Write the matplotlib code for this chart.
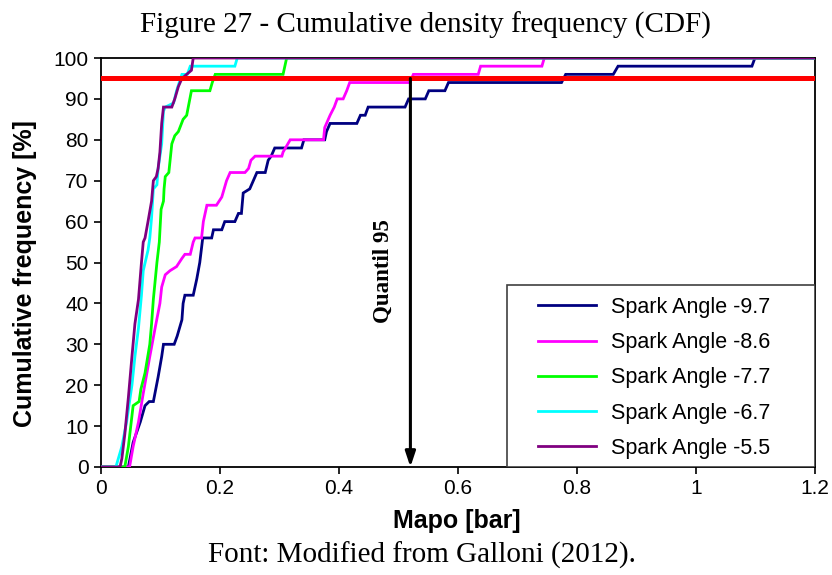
import matplotlib
matplotlib.use("Agg")
import matplotlib.pyplot as plt
from matplotlib.patches import Rectangle

# Empirical CDFs of Mapo for each spark angle (x in bar, y in %)
labels = ["Spark Angle -9.7", "Spark Angle -8.6", "Spark Angle -7.7",
          "Spark Angle -6.7", "Spark Angle -5.5"]
colors = ["#000080", "#FF00FF", "#00FF00", "#00FFFF", "#800080"]

x_97 = [0, 0.046, 0.054, 0.066, 0.074, 0.081, 0.088, 0.096, 0.102, 0.105, 0.123,
        0.128, 0.136, 0.138, 0.141, 0.155, 0.161, 0.166, 0.171, 0.186, 0.189,
        0.203, 0.208, 0.225, 0.231, 0.236, 0.239, 0.25, 0.256, 0.262, 0.276,
        0.281, 0.286, 0.292, 0.337, 0.341, 0.376, 0.379, 0.385, 0.43, 0.436,
        0.444, 0.449, 0.511, 0.517, 0.545, 0.551, 0.578, 0.584, 0.774, 0.781,
        0.861, 0.869, 1.094, 1.099, 1.2]
y_97 = [0, 0, 6, 11, 15, 16, 16, 22, 27, 30, 30,
        32, 36, 40, 42, 42, 46, 50, 56, 56, 58,
        58, 60, 60, 62, 62, 67, 68, 70, 72, 72,
        75, 76, 78, 78, 80, 80, 82, 84, 84, 86,
        86, 88, 88, 90, 90, 92, 92, 94, 94, 96,
        96, 98, 98, 100, 100]

x_86 = [0, 0.048, 0.054, 0.063, 0.071, 0.082, 0.091, 0.099, 0.102, 0.108, 0.116,
        0.127, 0.136, 0.141, 0.150, 0.155, 0.158, 0.169, 0.172, 0.178, 0.194,
        0.203, 0.211, 0.217, 0.242, 0.248, 0.252, 0.259, 0.304, 0.306, 0.318,
        0.374, 0.376, 0.379, 0.385, 0.392, 0.397, 0.407, 0.413, 0.418, 0.519,
        0.525, 0.634, 0.638, 0.741, 0.745, 1.2]
y_86 = [0, 0, 5, 11, 18, 27, 34, 40, 44, 47, 48,
        49, 51, 52, 52, 55, 56, 56, 60, 64, 64,
        66, 70, 72, 72, 73, 75, 76, 76, 77, 80,
        80, 83, 84, 86, 88, 90, 90, 92, 94, 94,
        96, 96, 98, 98, 100, 100]

x_77 = [0, 0.04, 0.046, 0.054, 0.064, 0.067, 0.074, 0.082, 0.085, 0.088, 0.094,
        0.098, 0.101, 0.105, 0.106, 0.108, 0.114, 0.119, 0.124, 0.13, 0.138,
        0.144, 0.148, 0.152, 0.183, 0.187, 0.192, 0.306, 0.312, 1.2]
y_77 = [0, 0, 5, 15, 16, 19, 23, 30, 35, 41, 50,
        55, 63, 65, 68, 71, 72, 79, 81, 82, 85,
        86, 89, 92, 92, 94, 96, 96, 100, 100]

x_67 = [0, 0.025, 0.035, 0.043, 0.052, 0.057, 0.063, 0.068, 0.071, 0.079, 0.082,
        0.085, 0.088, 0.094, 0.096, 0.102, 0.105, 0.108, 0.122, 0.127, 0.136,
        0.145, 0.15, 0.225, 0.229, 1.2]
y_67 = [0, 0, 5, 11, 20, 27, 34, 42, 48, 53, 56,
        61, 68, 69, 73, 79, 87, 88, 89, 92, 96,
        96, 98, 98, 100, 100]

x_55 = [0, 0.032, 0.035, 0.040, 0.046, 0.052, 0.057, 0.063, 0.068, 0.071, 0.074,
        0.079, 0.085, 0.088, 0.093, 0.096, 0.099, 0.102, 0.105, 0.119, 0.124,
        0.13, 0.136, 0.144, 0.152, 0.155, 1.2]
y_55 = [0, 0, 2, 8, 17, 27, 35, 41, 50, 55, 56,
        60, 65, 70, 71, 73, 77, 84, 88, 88, 90,
        93, 95, 96, 97, 100, 100]

series_x = [x_97, x_86, x_77, x_67, x_55]
series_y = [y_97, y_86, y_77, y_67, y_55]

quantile_level = 95
quantile_x = 0.52

xticks = [0, 0.2, 0.4, 0.6, 0.8, 1, 1.2]
xtick_labels = ["0", "0.2", "0.4", "0.6", "0.8", "1", "1.2"]
yticks = list(range(0, 101, 10))

W, H = 832, 575
fig = plt.figure(figsize=(W / 100, H / 100), dpi=100)
ax_l, ax_r, ax_t, ax_b = 101, 815, 58, 467
ax = fig.add_axes([ax_l / W, 1 - ax_b / H, (ax_r - ax_l) / W, (ax_b - ax_t) / H])

sans = "Liberation Sans"
serif = "Liberation Serif"

handles = []
for xs, ys, c, lab in zip(series_x, series_y, colors, labels):
    h, = ax.plot(xs, ys, color=c, lw=2.0, label=lab, solid_joinstyle="miter", zorder=3)
    handles.append(h)

ax.axhline(quantile_level, color="#FF0000", lw=3.6, zorder=4)
ax.annotate("", xy=(quantile_x, 0), xytext=(quantile_x, quantile_level),
            arrowprops=dict(arrowstyle="-|>,head_length=0.9,head_width=0.3",
                            color="black", lw=2.2, shrinkA=0, shrinkB=0),
            zorder=5)
ax.text(quantile_x - 0.046, 48, "Quantil 95", rotation=90, ha="center", va="center",
        fontsize=16.5, fontweight="bold", family=serif, zorder=5)

ax.set_xlim(0, 1.2)
ax.set_ylim(0, 100)
ax.set_xticks(xticks)
ax.set_xticklabels(xtick_labels)
ax.set_yticks(yticks)
ax.tick_params(direction="out", length=5, width=1.2, labelsize=15, pad=4)
for lab in ax.get_xticklabels() + ax.get_yticklabels():
    lab.set_family(sans)
for sp in ax.spines.values():
    sp.set_linewidth(1.3)
    sp.set_color("black")

# legend box in the lower right corner
bx0 = (507 - ax_l) / (ax_r - ax_l)
by1 = (ax_b - 285) / (ax_b - ax_t)
ax.add_patch(Rectangle((bx0, 0), 1 - bx0, by1, transform=ax.transAxes,
                       facecolor="white", edgecolor="#404040", lw=1.2, zorder=6))
leg = ax.legend(handles=handles, loc="upper left",
                bbox_to_anchor=((538 - ax_l) / (ax_r - ax_l), (ax_b - 297) / (ax_b - ax_t)),
                frameon=False, borderpad=0, borderaxespad=0, handlelength=2.7,
                handletextpad=0.7, labelspacing=0.66, prop={"family": sans, "size": 15.5})
leg.set_zorder(7)
for ln in leg.get_lines():
    ln.set_linewidth(2.0)

fig.text(25 / W, 1 - 274 / H, "Cumulative frequency [%]", rotation=90,
         ha="center", va="center", fontsize=18, fontweight="bold", family=sans)
fig.text(457 / W, 1 - 521 / H, "Mapo [bar]", ha="center", va="center",
         fontsize=18, fontweight="bold", family=sans)
fig.text(425 / W, 1 - 25 / H, "Figure 27 - Cumulative density frequency (CDF)",
         ha="center", va="center", fontsize=21, family=serif)
fig.text(422 / W, 1 - 555 / H, "Font: Modified from Galloni (2012).",
         ha="center", va="center", fontsize=21, family=serif)

fig.savefig("out.png", dpi=100)
